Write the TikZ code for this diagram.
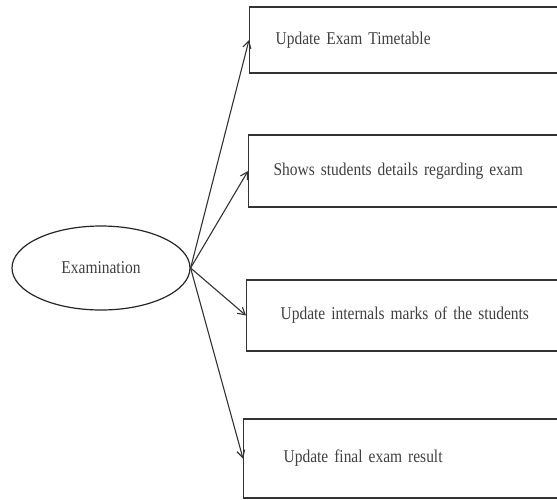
\documentclass[tikz,border=0pt]{standalone}
\usepackage{fontspec}
\setmainfont[FakeStretch=0.86]{Liberation Serif}
\usetikzlibrary{shapes.geometric,arrows.meta}
\newcommand\labelfont{\fontsize{18}{21}\selectfont\spaceskip=2.6pt plus 1pt\relax}

\tikzset{
	task/.style={draw=black!80, line width=1.2pt, anchor=west, text width=300pt, align=left, inner xsep=#1, text=black!75},
	flow/.style={-{Straight Barb[length=7pt,width=8pt]}, draw=black!80, line width=1.1pt}
}

\begin{document}
\begin{tikzpicture}[x=1pt, y=-1pt, font=\labelfont]
				%%%%% START %%%%%
				\def\ex{101}
				\def\ey{268}
				\useasboundingbox (0,0) rectangle (557,499);
				\clip (0,0) rectangle (557,499);
				
				\node[ellipse, draw=black!85, line width=1.2pt, minimum width=178pt, minimum height=84pt, text=black!75] (exam) at (\ex,\ey) {Examination};
				
				\node[task=26pt, minimum height=66pt] (timetable) at (249,40) {Update Exam Timetable};
				\node[task=25pt, minimum height=72pt] (details) at (248,171) {Shows students details regarding exam};
				\node[task=34pt, minimum height=71pt] (internals) at (246,315.5) {Update internals marks of the students};
				\node[task=40pt, minimum height=79pt] (result) at (243,458.5) {Update final exam result};
				
				\foreach \t in {timetable,details,internals,result}
					\draw[flow] (exam.east) -- (\t.west);
				%%%%% END %%%%%
\end{tikzpicture}
\end{document}
